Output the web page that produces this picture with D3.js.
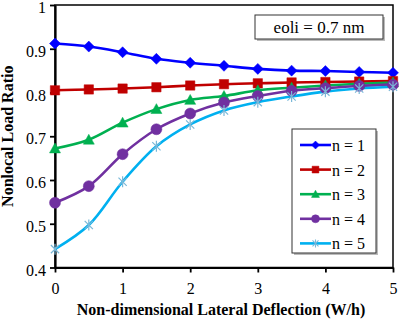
<!DOCTYPE html>
<html>
<head>
<meta charset="utf-8">
<script src="https://cdn.jsdelivr.net/npm/d3@7"></script>
<style>
  body { margin: 0; background: #fff; }
  svg { display: block; font-family: "Liberation Serif", "Times New Roman", serif; }
</style>
</head>
<body>
<div id="chart"></div>
<script>
// data
const deflection = [0, 0.5, 1, 1.5, 2, 2.5, 3, 3.5, 4, 4.5, 5];
const n1 = [0.912, 0.905, 0.892, 0.877, 0.868, 0.861, 0.854, 0.850, 0.849, 0.847, 0.845];
const n2 = [0.805, 0.807, 0.809, 0.812, 0.816, 0.819, 0.821, 0.823, 0.824, 0.825, 0.826];
const n3 = [0.672, 0.692, 0.731, 0.762, 0.783, 0.792, 0.805, 0.811, 0.816, 0.820, 0.823];
const n4 = [0.548, 0.586, 0.659, 0.716, 0.752, 0.777, 0.792, 0.804, 0.810, 0.815, 0.818];
const n5 = [0.442, 0.497, 0.596, 0.677, 0.727, 0.759, 0.778, 0.791, 0.802, 0.809, 0.813];
const seriesNames = ['n = 1', 'n = 2', 'n = 3', 'n = 4', 'n = 5'];
const xTicks = [0, 1, 2, 3, 4, 5];
const yTicks = [0.4, 0.5, 0.6, 0.7, 0.8, 0.9, 1];

const series = [
  { name: seriesNames[0], values: n1, color: '#0000ff', marker: 'diamond' },
  { name: seriesNames[1], values: n2, color: '#c00000', marker: 'square' },
  { name: seriesNames[2], values: n3, color: '#00b050', marker: 'triangle' },
  { name: seriesNames[3], values: n4, color: '#7030a0', marker: 'circle' },
  { name: seriesNames[4], values: n5, color: '#00b0f0', marker: 'star', markerColor: '#7ab8d8' }
];

const width = 401, height = 320;
const m = { left: 55, right: 8, top: 5, bottom: 52.5 };

const svg = d3.select('#chart').append('svg')
  .attr('width', width).attr('height', height);

const x = d3.scaleLinear().domain([0, 5]).range([m.left, width - m.right]);
const y = d3.scaleLinear().domain([0.4, 1]).range([height - m.bottom, m.top]);

// frame (top / right)
svg.append('rect')
  .attr('x', x(0)).attr('y', y(1))
  .attr('width', x(5) - x(0)).attr('height', y(0.4) - y(1))
  .attr('fill', 'none').attr('stroke', '#000').attr('stroke-width', 1.5);

const xAxis = svg.append('g')
  .attr('transform', `translate(0,${y(0.4)})`)
  .call(d3.axisBottom(x).tickValues(xTicks).tickSize(5).tickSizeOuter(0).tickFormat(d3.format('d')));

const yAxis = svg.append('g')
  .attr('transform', `translate(${x(0)},0)`)
  .call(d3.axisLeft(y).tickValues(yTicks).tickSize(5).tickSizeOuter(0)
    .tickFormat(d => d === 1 ? '1' : d.toFixed(1)));

[xAxis, yAxis].forEach(g => {
  g.select('.domain').attr('stroke', '#000').attr('stroke-width', 2.2);
  g.selectAll('.tick line').attr('stroke', '#000').attr('stroke-width', 1.8);
  g.selectAll('.tick text')
    .attr('font-family', '"Liberation Serif", serif')
    .attr('font-size', 16).attr('fill', '#000');
});
xAxis.selectAll('.tick text').attr('dy', '1.15em');
yAxis.selectAll('.tick text').attr('x', -9).attr('y', 2.5);

// axis titles
svg.append('text')
  .attr('x', (x(0) + x(5)) / 2 - 3).attr('y', 315)
  .attr('text-anchor', 'middle')
  .attr('font-size', 16).attr('font-weight', 'bold')
  .text('Non-dimensional Lateral Deflection (W/h)');

svg.append('text')
  .attr('transform', `translate(13,${(y(0.4) + y(1)) / 2}) rotate(-90)`)
  .attr('text-anchor', 'middle')
  .attr('font-size', 16).attr('font-weight', 'bold')
  .text('Nonlocal Load Ratio');

// markers
const markerPath = (type, s) => {
  if (type === 'diamond') return `M0,${-s}L${s},0L0,${s}L${-s},0Z`;
  if (type === 'square') return `M${-s * 0.85},${-s * 0.85}h${s * 1.7}v${s * 1.7}h${-s * 1.7}Z`;
  if (type === 'triangle') return `M0,${-s}L${s},${s * 0.8}L${-s},${s * 0.8}Z`;
  if (type === 'circle') return d3.symbol(d3.symbolCircle, Math.PI * s * s)();
  const a = s * 0.75;
  return `M${-a},${-a}L${a},${a}M${-a},${a}L${a},${-a}M0,${-s}L0,${s}`;
};

const line = d3.line()
  .x((d, i) => x(deflection[i]))
  .y(d => y(d))
  .curve(d3.curveCatmullRom.alpha(0.5));

const plot = svg.append('g');

series.forEach(s => {
  plot.append('path')
    .datum(s.values)
    .attr('d', line)
    .attr('fill', 'none')
    .attr('stroke', s.color)
    .attr('stroke-width', 2.6);
});

series.forEach(s => {
  plot.append('g').selectAll('path')
    .data(s.values)
    .join('path')
    .attr('transform', (d, i) => `translate(${x(deflection[i])},${y(d)})`)
    .attr('d', markerPath(s.marker, 5.5))
    .attr('fill', s.marker === 'star' ? 'none' : s.color)
    .attr('stroke', s.markerColor || s.color)
    .attr('stroke-width', s.marker === 'star' ? 1.2 : 0.5);
});

// eoli box
const eoli = svg.append('g');
eoli.append('rect')
  .attr('x', 257).attr('y', 17).attr('width', 128).attr('height', 24)
  .attr('fill', '#bbb');
eoli.append('rect')
  .attr('x', 255).attr('y', 15).attr('width', 128).attr('height', 24)
  .attr('fill', '#fff').attr('stroke', '#333').attr('stroke-width', 1);
eoli.append('text')
  .attr('x', 319).attr('y', 33)
  .attr('text-anchor', 'middle')
  .attr('font-size', 17)
  .text('eoli = 0.7 nm');

// legend
const legend = svg.append('g');
legend.append('rect')
  .attr('x', 294).attr('y', 131).attr('width', 84).attr('height', 124)
  .attr('fill', '#bbb');
legend.append('rect')
  .attr('x', 292).attr('y', 129).attr('width', 84).attr('height', 124)
  .attr('fill', '#fff').attr('stroke', '#333').attr('stroke-width', 1);

const item = legend.selectAll('g.item')
  .data(series)
  .join('g')
  .attr('class', 'item')
  .attr('transform', (d, i) => `translate(0,${145 + i * 24.6})`);

item.append('line')
  .attr('x1', 300).attr('x2', 331)
  .attr('stroke', d => d.color).attr('stroke-width', 2.6);
item.append('path')
  .attr('transform', 'translate(315.5,0)')
  .attr('d', d => markerPath(d.marker, 4))
  .attr('fill', d => d.marker === 'star' ? 'none' : d.color)
  .attr('stroke', d => d.markerColor || d.color)
  .attr('stroke-width', d => d.marker === 'star' ? 1.1 : 0.5);
item.append('text')
  .attr('x', 332).attr('y', 6)
  .attr('font-size', 16)
  .text(d => d.name);
</script>
</body>
</html>
